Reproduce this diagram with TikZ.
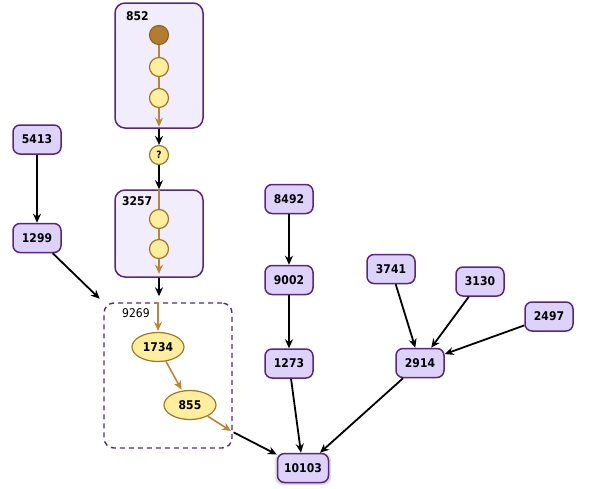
\documentclass[tikz,border=0pt]{standalone}
\usepackage{fontspec}
\setmainfont{DejaVu Sans Condensed}
\usetikzlibrary{arrows.meta,shapes.geometric,shadows}
\definecolor{boxdraw}{RGB}{88,38,128}
\definecolor{boxfill}{RGB}{221,211,250}
\definecolor{bigfill}{RGB}{241,237,253}
\definecolor{yfill}{RGB}{255,238,158}
\definecolor{ydraw}{RGB}{160,118,40}
\definecolor{brn}{RGB}{184,134,52}
\definecolor{darkc}{RGB}{180,124,46}
\begin{document}
\begin{tikzpicture}[x=1pt,y=-1pt,
  font=\fontsize{12}{14}\selectfont\bfseries,
  box/.style={draw=boxdraw, fill=boxfill, rounded corners=7pt, line width=1.5pt,
    minimum width=48pt, minimum height=29pt, inner sep=2pt},
  big/.style={draw=boxdraw, fill=bigfill, rounded corners=10pt, line width=1.5pt},
  dbox/.style={draw=boxdraw, dash pattern=on 5pt off 4pt, rounded corners=10pt, line width=1.4pt},
  circ/.style={circle, draw=ydraw, fill=yfill, line width=1.2pt, minimum size=19pt, inner sep=0pt},
  ell/.style={ellipse, draw=ydraw, fill=yfill, line width=1.2pt, minimum width=52pt, minimum height=29pt, inner sep=0pt},
  blk/.style={-{Stealth[length=9pt,width=8pt]}, line width=1.8pt, black},
  brnarrow/.style={-{Stealth[length=9pt,width=8pt]}, line width=1.6pt, brn},
  lbl/.style={anchor=west, inner sep=0pt}
]
\useasboundingbox (0,0) rectangle (600,488);

% big boxes
\node[big, minimum width=88pt, minimum height=125pt] (b852) at (159,65.5) {};
\node[big, minimum width=88pt, minimum height=87pt] (b3257) at (159,233.5) {};
\node[dbox, minimum width=128pt, minimum height=145pt] (b9269) at (168,375.5) {};
\node[lbl] (l852) at (126,16) {852};
\node[lbl] (l3257) at (122,201) {3257};
\node[lbl, font=\fontsize{12}{14}\selectfont\mdseries] (l9269) at (122,313) {9269};

% circle positions
\coordinate (p1) at (159,35);
\coordinate (p2) at (159,67);
\coordinate (p3) at (159,98);
\coordinate (q1) at (159,219);
\coordinate (q2) at (159,249);

% brown lines inside boxes
\draw[brnarrow, shorten >=2pt] (p1) -- (b852.south);
\draw[brnarrow, shorten >=4pt] (b3257.north) -- (b3257.south);

% circles
\node[circ, fill=darkc, draw=darkc!80!black] (c1) at (p1) {};
\node[circ] (c2) at (p2) {};
\node[circ] (c3) at (p3) {};
\node[circ] (d1) at (q1) {};
\node[circ] (d2) at (q2) {};
\node[circ, font=\fontsize{10}{11}\selectfont\bfseries] (qm) at (159,155) {?};

% ellipses
\node[ell] (e1734) at (158,347) {1734};
\node[ell] (e855) at (190,405) {855};
\coordinate (x855) at (231,431);

% plain boxes
\node[box] (n5413) at (37,139.5) {5413};
\node[box] (n1299) at (37,238) {1299};
\node[box] (n8492) at (289,199) {8492};
\node[box] (n9002) at (289,280) {9002};
\node[box] (n1273) at (289,363.5) {1273};
\node[box, minimum width=51pt, drop shadow={shadow xshift=0pt, shadow yshift=-1pt, opacity=0.25, shadow scale=1.1}] (n10103) at (303,468) {10103};
\node[box] (n3741) at (391,269) {3741};
\node[box] (n3130) at (480,281.5) {3130};
\node[box] (n2497) at (549,316.5) {2497};
\node[box] (n2914) at (420,363) {2914};

% black connectors
\draw[blk] (b852.south) -- (qm);
\draw[blk] (qm) -- (b3257.north);
\draw[blk, shorten >=6pt] (b3257.south) -- (b9269.north -| b3257.south);
\draw[blk] (n5413) -- (n1299);
\draw[blk, shorten >=5pt] (n1299) -- (b9269.north west);
\draw[blk] (n8492) -- (n9002);
\draw[blk] (n9002) -- (n1273);
\draw[blk] (n1273) -- (n10103);
\draw[blk, shorten <=3pt] (x855) -- (n10103);
\draw[blk] (n3741) -- (n2914);
\draw[blk] (n3130) -- (n2914);
\draw[blk] (n2497) -- (n2914);
\draw[blk] (n2914) -- (n10103);

% brown connectors in dashed box
\draw[brnarrow, shorten >=1pt] (b9269.north -| e1734) -- (e1734);
\draw[brnarrow, shorten >=1pt] (e1734) -- (e855);
\draw[brnarrow] (e855) -- (x855);
\end{tikzpicture}
\end{document}
